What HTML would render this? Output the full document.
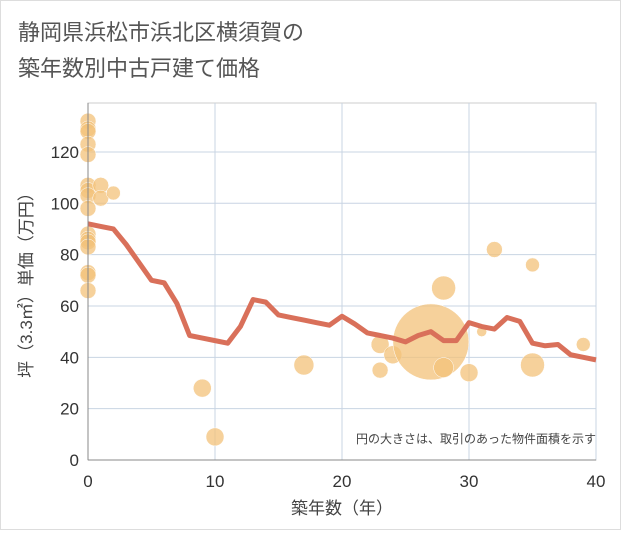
<!DOCTYPE html>
<html><head><meta charset="utf-8"><style>
body{margin:0;background:#fff;font-family:"Liberation Sans","Noto Sans CJK JP",sans-serif}
</style></head><body>
<svg id="c" width="621" height="530">
<rect x="0.5" y="0.5" width="620" height="529" fill="#fff" stroke="#ddd"/>
<text x="18" y="40" font-size="22" fill="#555">静岡県浜松市浜北区横須賀の</text>
<text x="18" y="76" font-size="22" fill="#555">築年数別中古戸建て価格</text>
<g id="grid"></g><g id="bubbles"></g><g id="line"></g><g id="axes"></g>
<text x="596" y="443" font-size="12" fill="#444" text-anchor="end">円の大きさは、取引のあった物件面積を示す</text>
<text x="342" y="514" font-size="17" fill="#444" text-anchor="middle">築年数（年）</text>
<text transform="translate(32,281) rotate(-90)" font-size="17" fill="#444" text-anchor="middle">坪（3.3㎡）単価（万円）</text>
</svg>
<script>
const xTicks=[0,10,20,30,40];
const yTicks=[0,20,40,60,80,100,120];
const lineYears=[0,1,2,3,4,5,6,7,8,9,10,11,12,13,14,15,16,17,18,19,20,21,22,23,24,25,26,27,28,29,30,31,32,33,34,35,36,37,38,39,40];
const lineValues=[92,91,90,84,77,70,69,61,48.5,47.5,46.5,45.5,52,62.5,61.5,56.5,55.5,54.5,53.5,52.5,56,53,49.5,48.5,47.5,46,48.5,50,46.5,46.5,53.5,52,51,55.5,54,45.5,44.5,45,41,40,39];
const bubbleYears=[0,0,0,0,0,0,0,0,0,0,0,0,0,0,0,0,1,1,2,9,10,17,23,23,24,27,28,28,30,31,32,35,35,39];
const bubblePrices=[132,129,128,123,119,107,105,103,98,88,86,85,83,73,72,66,107,102,104,28,9,37,45,35,41,46,67,36,34,50,82,76,37,45];
const bubbleAreas=[8,8,8,8,8,8,8,8,8,8,8,8,8,8,8,8,8,8,7,9,9,10,9,8,9,38,12,10,9,5,8,7,12,7];
const X=v=>88+v*(596-88)/40, Y=v=>460-v*2.567;
const ns="http://www.w3.org/2000/svg";
function mk(t,a,p){const e=document.createElementNS(ns,t);for(const k in a)e.setAttribute(k,a[k]);p.appendChild(e);return e;}
const g=document.getElementById('grid'),ax=document.getElementById('axes');
mk('rect',{x:88,y:103,width:508,height:357,fill:'none',stroke:'#ccc'},g);
xTicks.forEach(t=>{const l=mk('line',{x1:X(t),x2:X(t),y1:103,y2:460,stroke:'#c8d4e3'},g);

const tx=mk('text',{x:X(t),y:487,'font-size':17,fill:'#333','text-anchor':'middle'},ax);tx.textContent=t;
});
yTicks.forEach(t=>{const l=mk('line',{x1:88,x2:596,y1:Y(t),y2:Y(t),stroke:'#c8d4e3'},g);

const tx=mk('text',{x:79,y:Y(t)+6,'font-size':17,fill:'#333','text-anchor':'end'},ax);tx.textContent=t;
});
mk('line',{x1:88,x2:88,y1:103,y2:460,stroke:'#888'},ax);
mk('line',{x1:88,x2:596,y1:460,y2:460,stroke:'#888'},ax);
const bg=document.getElementById('bubbles');
bubbleYears.forEach((yr,i)=>{const c=mk('circle',{cx:X(yr),cy:Y(bubblePrices[i]),r:bubbleAreas[i],fill:'#f3c27a','fill-opacity':0.75,stroke:'#fff','stroke-width':0.5},bg);
});
const p=mk('polyline',{points:lineYears.map((y,i)=>X(y)+','+Y(lineValues[i])).join(' '),fill:'none',stroke:'#d9705a','stroke-width':5,'stroke-linejoin':'round'},document.getElementById('line'));

</script>
</body></html>
